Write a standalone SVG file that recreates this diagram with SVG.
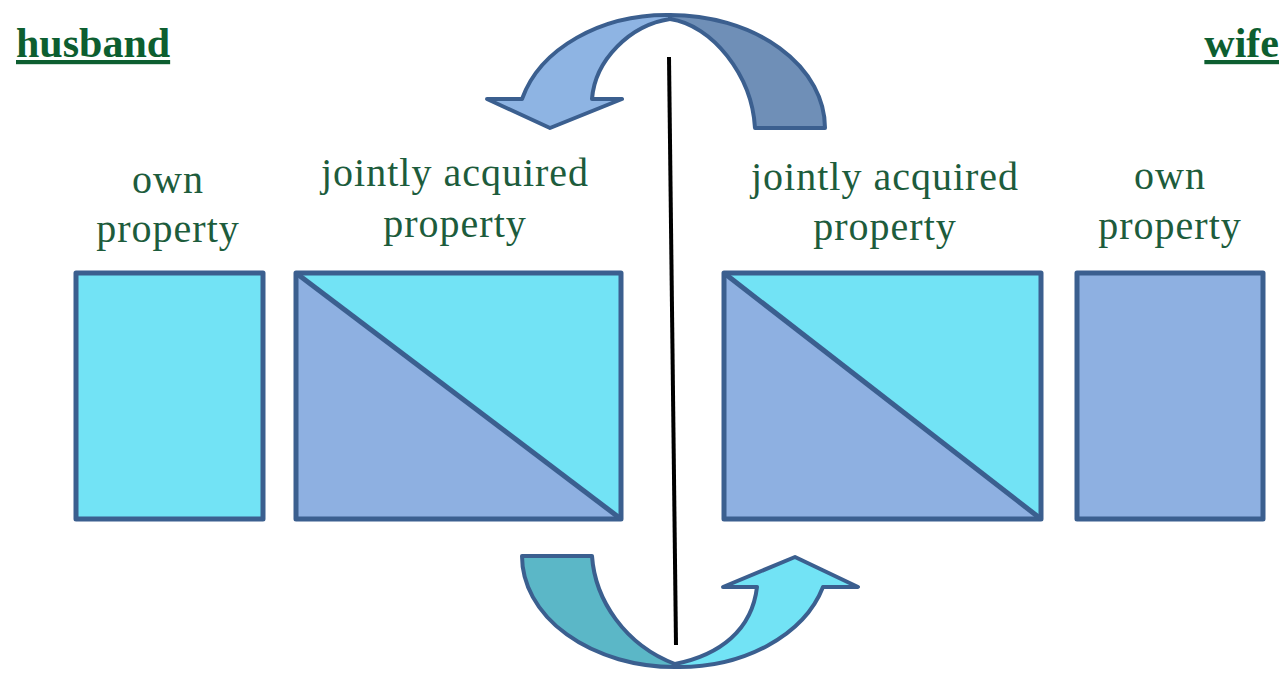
<svg xmlns="http://www.w3.org/2000/svg" width="1286" height="674" viewBox="0 0 1286 674">
<style>
.lbl{font-family:"Liberation Serif","Times New Roman",serif;font-size:40px;fill:#1d5c3c;text-anchor:middle;letter-spacing:1px}
.ttl{font-family:"Liberation Serif","Times New Roman",serif;font-size:42px;font-weight:bold;fill:#0d5e30;text-decoration:underline}
.box{stroke:#3b5f8f;stroke-width:5;stroke-linejoin:round}
.arr{stroke:#3b5f8f;stroke-width:4;stroke-linejoin:round}
</style>
<rect width="1286" height="674" fill="#ffffff"/>
<g id="titles">
<text class="ttl" x="16" y="57">husband</text>
<text class="ttl" x="1279" y="57" text-anchor="end">wife</text>
</g>
<g id="husband-own">
<text class="lbl" x="168" y="193">own</text>
<text class="lbl" x="168" y="242">property</text>
<rect class="box" x="76" y="273" width="187" height="246" fill="#72e3f5"/>
</g>
<g id="husband-joint">
<text class="lbl" x="455" y="186">jointly acquired</text>
<text class="lbl" x="455" y="237">property</text>
<polygon points="296,273 621,519 296,519" fill="#8eb0e1"/>
<polygon points="296,273 621,273 621,519" fill="#72e3f5"/>
<rect class="box" x="296" y="273" width="325" height="246" fill="none"/>
<line class="box" x1="296" y1="273" x2="621" y2="519"/>
</g>
<g id="wife-joint">
<text class="lbl" x="885" y="190">jointly acquired</text>
<text class="lbl" x="885" y="240">property</text>
<polygon points="724,273 1041,519 724,519" fill="#8eb0e1"/>
<polygon points="724,273 1041,273 1041,519" fill="#72e3f5"/>
<rect class="box" x="724" y="273" width="317" height="246" fill="none"/>
<line class="box" x1="724" y1="273" x2="1041" y2="519"/>
</g>
<g id="wife-own">
<text class="lbl" x="1170" y="189">own</text>
<text class="lbl" x="1170" y="239">property</text>
<rect class="box" x="1077" y="273" width="186" height="246" fill="#8eb0e1"/>
</g>
<g id="connectors">
<line x1="669" y1="57" x2="676" y2="645" stroke="#000000" stroke-width="4"/>
<path class="arr" fill="#6f8fb7" d="M670,15 A155 113 0 0 1 825,128 L755,128 C752,75 712,25 670,19 Z"/>
<path class="arr" fill="#8eb4e3" d="M670,15 A150 114 0 0 0 522,99 L487,99 L550,128 L622,99 L592,99 C595,60 630,25 670,19 Z"/>
<path class="arr" fill="#5bb7c7" d="M522,556 L592,556 C595,600 625,645 675,664 L675,667 A153 111 0 0 1 522,556 Z"/>
<path class="arr" fill="#72e3f5" d="M675,664 C720,655 752,630 757,587 L723,587 L795,557 L858,587 L823,587 A150 111 0 0 1 675,667 Z"/>
</g>
</svg>
